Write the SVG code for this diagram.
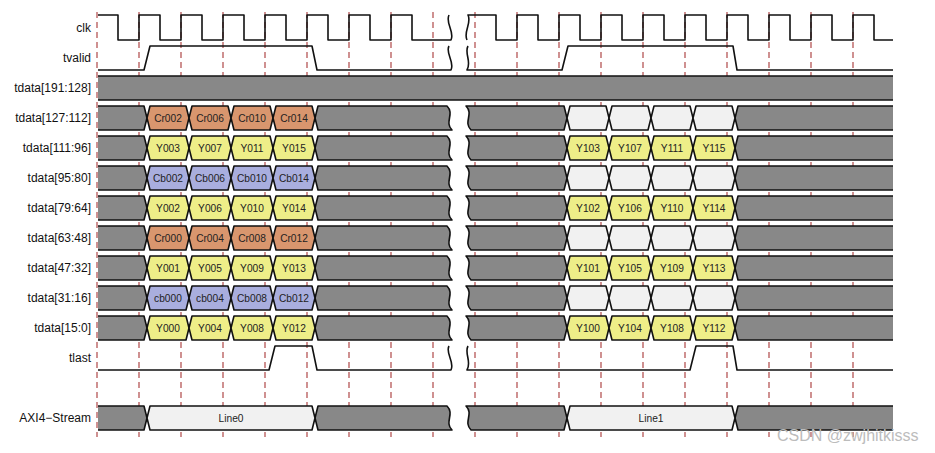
<svg xmlns="http://www.w3.org/2000/svg" xmlns:xlink="http://www.w3.org/1999/xlink" width="935" height="453" viewBox="0 0 935 453">
<style>
.lab{font-family:"Liberation Sans",Arial,sans-serif;font-size:12px;fill:#111;text-anchor:end}
.v{font-family:"Liberation Sans",Arial,sans-serif;font-size:10.2px;fill:#222;text-anchor:middle}
.sig{fill:none;stroke:#111;stroke-width:1.6;stroke-linejoin:round}
.bus{stroke:#111;stroke-width:1.6;stroke-linejoin:round}
.g{fill:#888888}.o{fill:#d9966e}.y{fill:#eeee88}.b{fill:#a9aede}.w{fill:#f1f1f1}
.grid{fill:none;stroke:#b04848;stroke-width:1.2;stroke-dasharray:6 4}
.wm{font-family:"Liberation Sans",Arial,sans-serif;font-size:16px;fill:#bcbcbc}
</style>
<defs>
<g id="base" class="bus g">
<path d="M98,-12 H144 L147,0 L144,12 H98"/>
<path d="M315,0 L318,-12 H447 C455,-4 444,4 452,12 H318 Z"/>
<path d="M564,-12 H466 C474,-4 463,4 471,12 H564 L567,0 Z"/>
<path d="M893,-12 H738 L735,0 L738,12 H893"/>
</g>
<path id="box" class="bus" d="M0,0 L3,-12 H39 L42,0 L39,12 H3 Z"/>
<path id="lbox" class="bus" d="M0,0 L3,-12 H165 L168,0 L165,12 H3 Z"/>
</defs>

<g id="grid">
<path class="grid" d="M97,12V437M139,12V437M181,12V437M223,12V437M265,12V437M307,12V437M349,12V437M391,12V437M433,12V437M475,12V437M517,12V437M559,12V437M601,12V437M643,12V437M685,12V437M727,12V437M769,12V437M811,12V437M853,12V437"/>
</g>

<g id="clk">
<text class="lab" x="91" y="32">clk</text>
<path class="sig" d="M98,15 H118 V40 H139 V15 H160 V40 H181 V15 H202 V40 H223 V15 H244 V40 H265 V15 H286 V40 H307 V15 H328 V40 H349 V15 H370 V40 H391 V15 H412 V40 H451 C455,32 445,23 449,15"/>
<path class="sig" d="M467,40 C463,32 472,23 468,15 H496 V40 H517 V15 H538 V40 H559 V15 H580 V40 H601 V15 H622 V40 H643 V15 H664 V40 H685 V15 H706 V40 H727 V15 H748 V40 H769 V15 H790 V40 H811 V15 H832 V40 H853 V15 H874 V40 H893"/>
</g>

<g id="tvalid">
<text class="lab" x="91" y="62">tvalid</text>
<path class="sig" d="M98,70 H144 L150,46 H312 L317,70 H451 C455,62 445,53 449,46"/>
<path class="sig" d="M468,46 C464,53 472,62 467,70 H562 L568,46 H733 L737,70 H893"/>
</g>

<g id="tdata191">
<text class="lab" x="91" y="92">tdata[191:128]</text>
<rect x="98" y="76" width="795" height="24" class="g"/>
<path class="sig" d="M98,76 H893 M98,100 H893"/>
</g>

<g id="tdata127">
<text class="lab" x="91" y="122">tdata[127:112]</text>
<use xlink:href="#base" y="118"/>
<use xlink:href="#box" x="147" y="118" class="o"/><use xlink:href="#box" x="189" y="118" class="o"/><use xlink:href="#box" x="231" y="118" class="o"/><use xlink:href="#box" x="273" y="118" class="o"/>
<use xlink:href="#box" x="567" y="118" class="w"/><use xlink:href="#box" x="609" y="118" class="w"/><use xlink:href="#box" x="651" y="118" class="w"/><use xlink:href="#box" x="693" y="118" class="w"/>
<text class="v" x="168" y="121.6">Cr002</text><text class="v" x="210" y="121.6">Cr006</text><text class="v" x="252" y="121.6">Cr010</text><text class="v" x="294" y="121.6">Cr014</text>
</g>

<g id="tdata111">
<text class="lab" x="91" y="152">tdata[111:96]</text>
<use xlink:href="#base" y="148"/>
<use xlink:href="#box" x="147" y="148" class="y"/><use xlink:href="#box" x="189" y="148" class="y"/><use xlink:href="#box" x="231" y="148" class="y"/><use xlink:href="#box" x="273" y="148" class="y"/>
<use xlink:href="#box" x="567" y="148" class="y"/><use xlink:href="#box" x="609" y="148" class="y"/><use xlink:href="#box" x="651" y="148" class="y"/><use xlink:href="#box" x="693" y="148" class="y"/>
<text class="v" x="168" y="151.6">Y003</text><text class="v" x="210" y="151.6">Y007</text><text class="v" x="252" y="151.6">Y011</text><text class="v" x="294" y="151.6">Y015</text>
<text class="v" x="588" y="151.6">Y103</text><text class="v" x="630" y="151.6">Y107</text><text class="v" x="672" y="151.6">Y111</text><text class="v" x="714" y="151.6">Y115</text>
</g>

<g id="tdata95">
<text class="lab" x="91" y="182">tdata[95:80]</text>
<use xlink:href="#base" y="178"/>
<use xlink:href="#box" x="147" y="178" class="b"/><use xlink:href="#box" x="189" y="178" class="b"/><use xlink:href="#box" x="231" y="178" class="b"/><use xlink:href="#box" x="273" y="178" class="b"/>
<use xlink:href="#box" x="567" y="178" class="w"/><use xlink:href="#box" x="609" y="178" class="w"/><use xlink:href="#box" x="651" y="178" class="w"/><use xlink:href="#box" x="693" y="178" class="w"/>
<text class="v" x="168" y="181.6">Cb002</text><text class="v" x="210" y="181.6">Cb006</text><text class="v" x="252" y="181.6">Cb010</text><text class="v" x="294" y="181.6">Cb014</text>
</g>

<g id="tdata79">
<text class="lab" x="91" y="212">tdata[79:64]</text>
<use xlink:href="#base" y="208"/>
<use xlink:href="#box" x="147" y="208" class="y"/><use xlink:href="#box" x="189" y="208" class="y"/><use xlink:href="#box" x="231" y="208" class="y"/><use xlink:href="#box" x="273" y="208" class="y"/>
<use xlink:href="#box" x="567" y="208" class="y"/><use xlink:href="#box" x="609" y="208" class="y"/><use xlink:href="#box" x="651" y="208" class="y"/><use xlink:href="#box" x="693" y="208" class="y"/>
<text class="v" x="168" y="211.6">Y002</text><text class="v" x="210" y="211.6">Y006</text><text class="v" x="252" y="211.6">Y010</text><text class="v" x="294" y="211.6">Y014</text>
<text class="v" x="588" y="211.6">Y102</text><text class="v" x="630" y="211.6">Y106</text><text class="v" x="672" y="211.6">Y110</text><text class="v" x="714" y="211.6">Y114</text>
</g>

<g id="tdata63">
<text class="lab" x="91" y="242">tdata[63:48]</text>
<use xlink:href="#base" y="238"/>
<use xlink:href="#box" x="147" y="238" class="o"/><use xlink:href="#box" x="189" y="238" class="o"/><use xlink:href="#box" x="231" y="238" class="o"/><use xlink:href="#box" x="273" y="238" class="o"/>
<use xlink:href="#box" x="567" y="238" class="w"/><use xlink:href="#box" x="609" y="238" class="w"/><use xlink:href="#box" x="651" y="238" class="w"/><use xlink:href="#box" x="693" y="238" class="w"/>
<text class="v" x="168" y="241.6">Cr000</text><text class="v" x="210" y="241.6">Cr004</text><text class="v" x="252" y="241.6">Cr008</text><text class="v" x="294" y="241.6">Cr012</text>
</g>

<g id="tdata47">
<text class="lab" x="91" y="272">tdata[47:32]</text>
<use xlink:href="#base" y="268"/>
<use xlink:href="#box" x="147" y="268" class="y"/><use xlink:href="#box" x="189" y="268" class="y"/><use xlink:href="#box" x="231" y="268" class="y"/><use xlink:href="#box" x="273" y="268" class="y"/>
<use xlink:href="#box" x="567" y="268" class="y"/><use xlink:href="#box" x="609" y="268" class="y"/><use xlink:href="#box" x="651" y="268" class="y"/><use xlink:href="#box" x="693" y="268" class="y"/>
<text class="v" x="168" y="271.6">Y001</text><text class="v" x="210" y="271.6">Y005</text><text class="v" x="252" y="271.6">Y009</text><text class="v" x="294" y="271.6">Y013</text>
<text class="v" x="588" y="271.6">Y101</text><text class="v" x="630" y="271.6">Y105</text><text class="v" x="672" y="271.6">Y109</text><text class="v" x="714" y="271.6">Y113</text>
</g>

<g id="tdata31">
<text class="lab" x="91" y="302">tdata[31:16]</text>
<use xlink:href="#base" y="298"/>
<use xlink:href="#box" x="147" y="298" class="b"/><use xlink:href="#box" x="189" y="298" class="b"/><use xlink:href="#box" x="231" y="298" class="b"/><use xlink:href="#box" x="273" y="298" class="b"/>
<use xlink:href="#box" x="567" y="298" class="w"/><use xlink:href="#box" x="609" y="298" class="w"/><use xlink:href="#box" x="651" y="298" class="w"/><use xlink:href="#box" x="693" y="298" class="w"/>
<text class="v" x="168" y="301.6">cb000</text><text class="v" x="210" y="301.6">cb004</text><text class="v" x="252" y="301.6">Cb008</text><text class="v" x="294" y="301.6">Cb012</text>
</g>

<g id="tdata15">
<text class="lab" x="91" y="332">tdata[15:0]</text>
<use xlink:href="#base" y="328"/>
<use xlink:href="#box" x="147" y="328" class="y"/><use xlink:href="#box" x="189" y="328" class="y"/><use xlink:href="#box" x="231" y="328" class="y"/><use xlink:href="#box" x="273" y="328" class="y"/>
<use xlink:href="#box" x="567" y="328" class="y"/><use xlink:href="#box" x="609" y="328" class="y"/><use xlink:href="#box" x="651" y="328" class="y"/><use xlink:href="#box" x="693" y="328" class="y"/>
<text class="v" x="168" y="331.6">Y000</text><text class="v" x="210" y="331.6">Y004</text><text class="v" x="252" y="331.6">Y008</text><text class="v" x="294" y="331.6">Y012</text>
<text class="v" x="588" y="331.6">Y100</text><text class="v" x="630" y="331.6">Y104</text><text class="v" x="672" y="331.6">Y108</text><text class="v" x="714" y="331.6">Y112</text>
</g>

<g id="tlast">
<text class="lab" x="91" y="362">tlast</text>
<path class="sig" d="M98,370 H269 L275,346 H312 L317,370 H451 C455,362 445,353 449,346"/>
<path class="sig" d="M468,346 C464,353 472,362 467,370 H690 L696,346 H733 L737,370 H893"/>
</g>

<g id="axi4stream">
<text class="lab" x="91" y="422">AXI4−Stream</text>
<use xlink:href="#base" y="418"/>
<use xlink:href="#lbox" x="147" y="418" class="w"/>
<use xlink:href="#lbox" x="567" y="418" class="w"/>
<text class="v" x="231" y="421.6">Line0</text>
<text class="v" x="651" y="421.6">Line1</text>
</g>

<text class="wm" x="777" y="441">CSDN @zwjhitkisss</text>
</svg>
